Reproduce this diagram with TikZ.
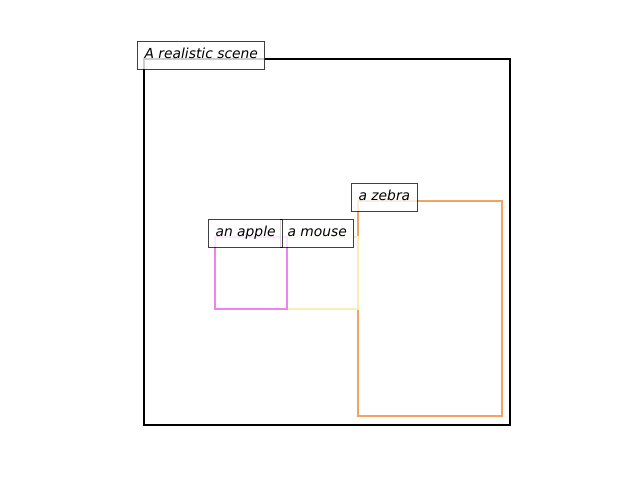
\documentclass[tikz,border=0pt]{standalone}
\usepackage{fontspec}
\setmainfont{DejaVu Sans}
\usepackage{xcolor}
\usepackage{tikz}
\usetikzlibrary{positioning}

\definecolor{applecol}{RGB}{238,130,238}
\definecolor{mousecol}{RGB}{250,235,185}
\definecolor{zebracol}{RGB}{244,164,96}

\begin{document}
\begin{tikzpicture}[
      x=0.01in, y=-0.01in,
      font=\fontsize{10pt}{12pt}\selectfont\itshape,
      frame/.style={draw=black, line width=1.5pt},
      objbox/.style={line width=1.5pt},
      boxlabel/.style={anchor=base west, draw=black, fill=white, draw opacity=0.75, fill opacity=0.8, text opacity=1,
        line width=0.8pt, inner xsep=5pt, inner ysep=5pt, text height=7.6pt, text depth=2.4pt, xshift=-5pt}
    ]
    \useasboundingbox (0,0) rectangle (640,480);

    % Scene frame
    \draw[frame] (144,59) rectangle (510,425);

    % Object boxes
    \draw[objbox, zebracol] (358,201) rectangle (502,416);
    \draw[objbox, mousecol] (287,237) rectangle (358,309);
    \draw[objbox, applecol] (215,237) rectangle (287,309);

    % Labels
    \node[boxlabel] (scene) at (144,59) {A realistic scene};
    \node[boxlabel] (zebra) at (358,201) {a zebra};
    \node[boxlabel] (mouse) at (287,237) {a mouse};
    \node[boxlabel] (apple) at (215,237) {an apple};

  \end{tikzpicture}
\end{document}
